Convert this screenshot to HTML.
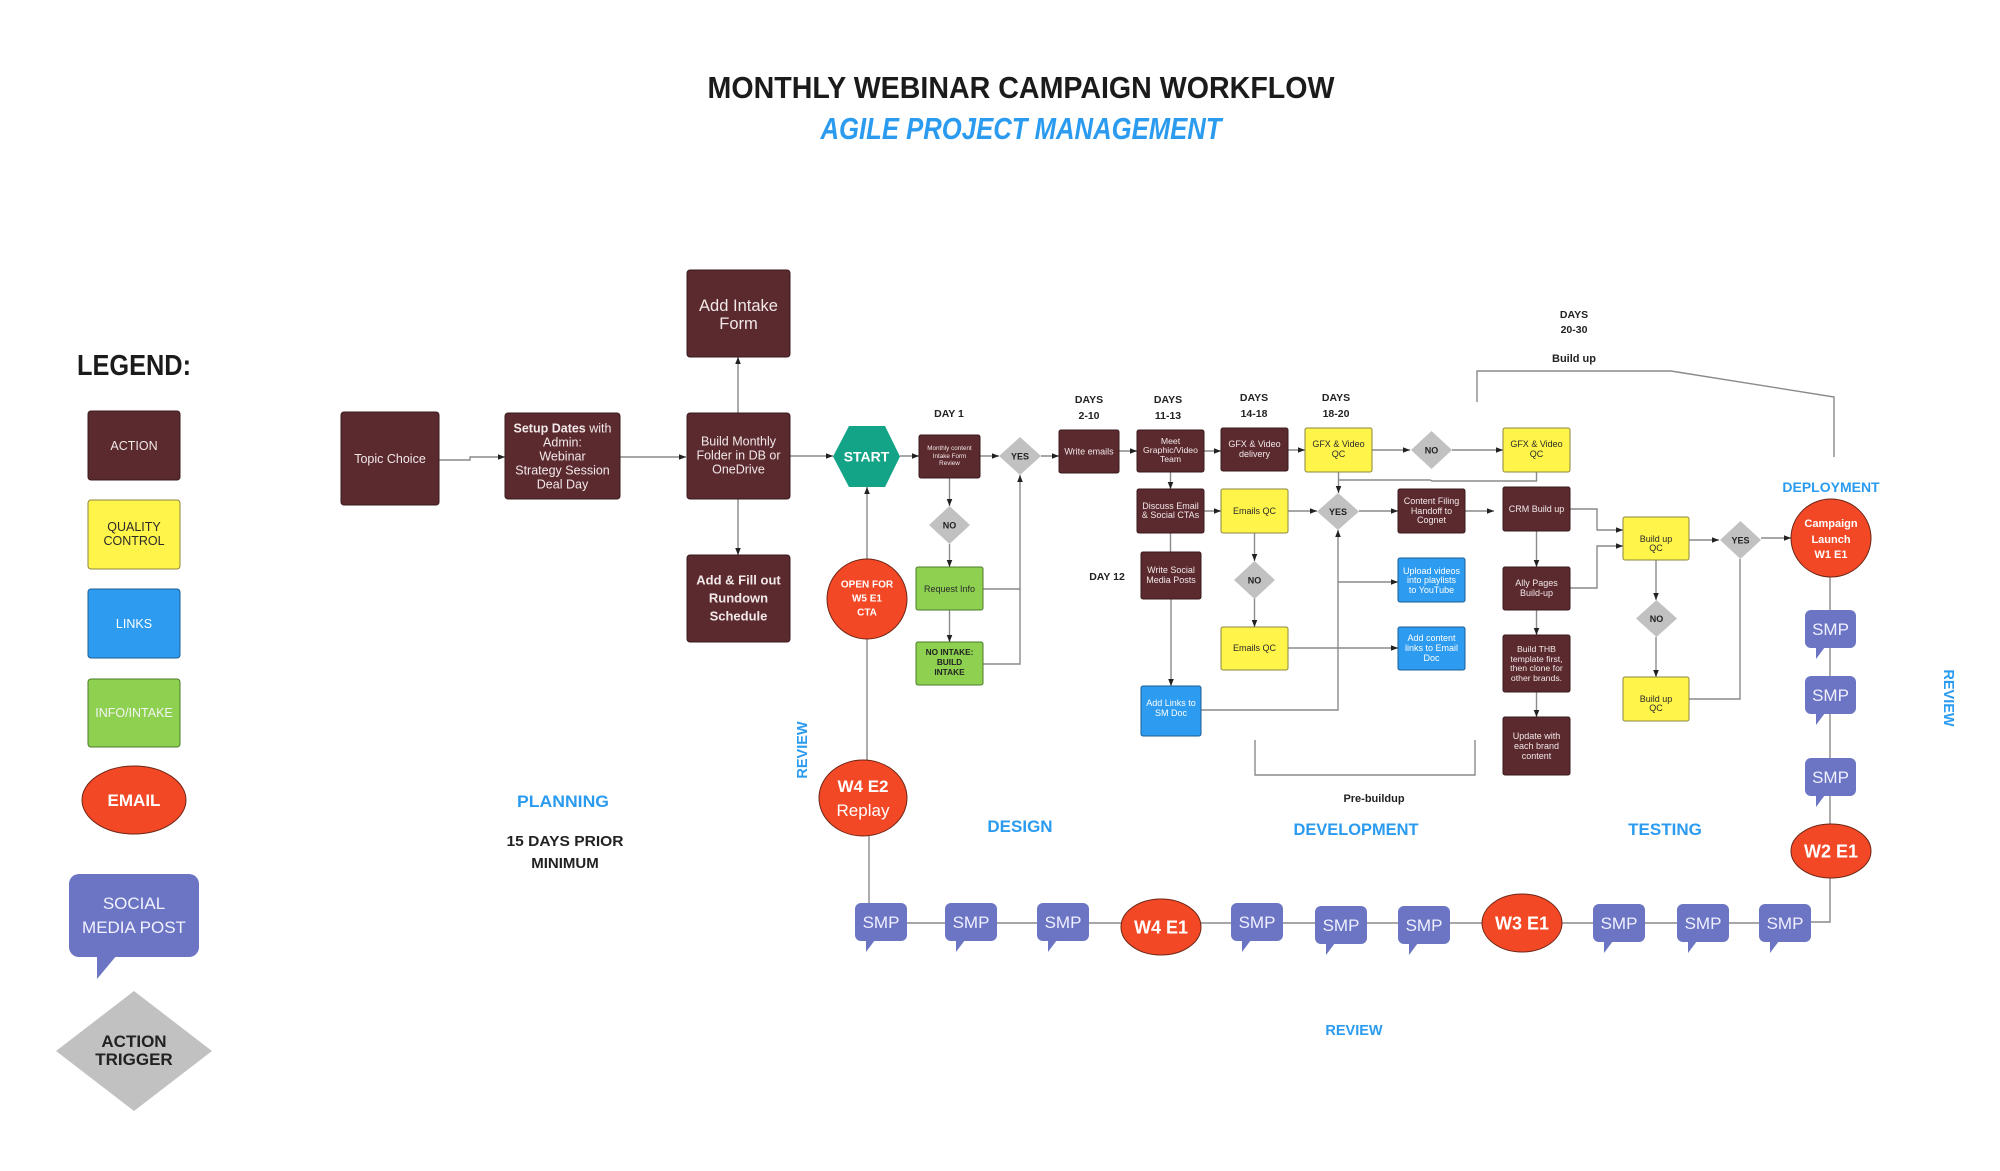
<!DOCTYPE html>
<html><head><meta charset="utf-8"><style>
html,body{margin:0;padding:0;background:#fff;}
svg{display:block;font-family:"Liberation Sans",Arial,sans-serif;}
.m{fill:#5B2A2F;stroke:#3a1b1e;stroke-width:1}
.y{fill:#FFF54A;stroke:#8a8640;stroke-width:1}
.b{fill:#2D9BF0;stroke:#1b5e93;stroke-width:1}
.g{fill:#8ED150;stroke:#4c7a2a;stroke-width:1}
.r{fill:#F24826;stroke:#6e2616;stroke-width:1}
.p{fill:#6B75C3}
.d{fill:#C1C1C1}
.tw{fill:#F1E8E8}
.tk{fill:#2a2a2a}
.tb{fill:#222}
.bl{fill:#2B9BF0;font-weight:bold}
.ln{stroke:#8a8a8a;stroke-width:1.4;fill:none}
.la{stroke:#8a8a8a;stroke-width:1.4;fill:none;marker-end:url(#a)}
</style></head><body>
<svg width="2000" height="1171" viewBox="0 0 2000 1171" xmlns="http://www.w3.org/2000/svg">
<defs>
<marker id="a" viewBox="0 0 10 10" refX="10" refY="5" markerWidth="7" markerHeight="7" markerUnits="userSpaceOnUse" orient="auto"><path d="M0,1 L10,5 L0,9 z" fill="#222"/></marker>
</defs>
<rect width="2000" height="1171" fill="#fff"/>

<!-- Title -->
<text x="1021" y="98" font-size="31" font-weight="bold" fill="#1b1b1b" text-anchor="middle" textLength="627" lengthAdjust="spacingAndGlyphs">MONTHLY WEBINAR CAMPAIGN WORKFLOW</text>
<text x="1021" y="139" font-size="31" font-weight="bold" font-style="italic" fill="#2B9BF0" text-anchor="middle" textLength="401" lengthAdjust="spacingAndGlyphs">AGILE PROJECT MANAGEMENT</text>

<!-- Legend -->
<text x="134" y="375" font-size="29" font-weight="bold" fill="#1b1b1b" text-anchor="middle" textLength="114" lengthAdjust="spacingAndGlyphs">LEGEND:</text>
<rect class="m" x="88" y="411" width="92" height="69" rx="3"/>
<text class="tw" x="134" y="450" font-size="12.5" text-anchor="middle">ACTION</text>
<rect class="y" x="88" y="500" width="92" height="69" rx="3"/>
<text class="tk" x="134" y="531" font-size="12.5" text-anchor="middle">QUALITY</text>
<text class="tk" x="134" y="545" font-size="12.5" text-anchor="middle">CONTROL</text>
<rect class="b" x="88" y="589" width="92" height="69" rx="3"/>
<text fill="#fff" x="134" y="628" font-size="12.5" text-anchor="middle">LINKS</text>
<rect class="g" x="88" y="679" width="92" height="68" rx="3"/>
<text fill="#f4f4f4" x="134" y="717" font-size="12.5" text-anchor="middle">INFO/INTAKE</text>
<ellipse class="r" cx="134" cy="800" rx="52" ry="34"/>
<text fill="#fff" x="134" y="806" font-size="17" font-weight="bold" text-anchor="middle">EMAIL</text>
<rect class="p" x="69" y="874" width="130" height="83" rx="10"/>
<polygon class="p" points="97,955 117,955 97,979"/>
<text fill="#f2f2ff" x="134" y="909" font-size="17" text-anchor="middle">SOCIAL</text>
<text fill="#f2f2ff" x="134" y="933" font-size="17" text-anchor="middle">MEDIA POST</text>
<polygon class="d" points="56,1051 134,991 212,1051 134,1111"/>
<text class="tb" x="134" y="1047" font-size="17" font-weight="bold" text-anchor="middle">ACTION</text>
<text class="tb" x="134" y="1065" font-size="17" font-weight="bold" text-anchor="middle">TRIGGER</text>

<!-- connectors -->
<path class="la" d="M439,460 H470 V457 H505"/>
<path class="la" d="M620,457 H686"/>
<path class="la" d="M738,413 V357"/>
<path class="la" d="M738,499 V555"/>
<path class="la" d="M790,456 H833"/>
<path class="la" d="M900,456 H919"/>
<path class="la" d="M867,559 V487"/>
<path class="ln" d="M867,639 V760"/>
<path class="ln" d="M869,836 V904"/>
<path class="la" d="M980,456 H999"/>
<path class="la" d="M949.5,478 V506"/>
<path class="la" d="M949.5,544 V567"/>
<path class="la" d="M949.5,610 V642"/>
<path class="la" d="M983,589 H1020 V475"/>
<path class="ln" d="M983,664 H1020 V589"/>
<path class="la" d="M1041,456 H1059"/>
<path class="la" d="M1119,451 H1137"/>
<path class="la" d="M1204,451 H1221"/>
<path class="la" d="M1288,450 H1305"/>
<path class="la" d="M1372,450 H1410"/>
<path class="la" d="M1452,450 H1503"/>
<path class="la" d="M1170.5,472 V489"/>
<path class="la" d="M1204,511 H1221"/>
<path class="ln" d="M1170.5,533 V552"/>
<path class="la" d="M1171,599 V686"/>
<path class="la" d="M1288,511 H1317"/>
<path class="la" d="M1254.5,533 V561"/>
<path class="la" d="M1254.5,598 V627"/>
<path class="la" d="M1288,648 H1398"/>
<path class="la" d="M1201,710 H1338 V530"/>
<path class="la" d="M1338,582 H1398"/>
<path class="la" d="M1359,511 H1398"/>
<path class="la" d="M1338.5,472 V493"/>
<path class="ln" d="M1536.5,472 V481 H1432 L1430,480 H1338.5"/>
<path class="la" d="M1465,511 H1494"/>
<path class="la" d="M1570,509 H1597 V530 H1623"/>
<path class="la" d="M1570,588 H1597 V546 H1623"/>
<path class="la" d="M1536.5,531 V567"/>
<path class="la" d="M1536.5,610 V635"/>
<path class="la" d="M1536.5,692 V717"/>
<path class="la" d="M1689,540 H1719"/>
<path class="la" d="M1656,560 V600"/>
<path class="la" d="M1656,637 V677"/>
<path class="ln" d="M1689,699 H1740 V559"/>
<path class="la" d="M1761,538 H1791"/>
<path class="ln" d="M1830,577 V922 H1811"/>
<path class="ln" d="M880,923 H1780"/>
<!-- brackets -->
<path class="ln" d="M1477,402 V371 H1671 L1834,397 V457"/>
<path class="ln" d="M1255,740 V775 H1475 V740"/>

<!-- Planning nodes -->
<rect class="m" x="341" y="412" width="98" height="93" rx="3"/>
<text class="tw" x="390" y="463" font-size="12.5" text-anchor="middle">Topic Choice</text>
<rect class="m" x="505" y="413" width="115" height="86" rx="3"/>
<text class="tw" x="562.5" y="432.5" font-size="12.5" text-anchor="middle"><tspan font-weight="bold">Setup Dates</tspan> with</text>
<text class="tw" x="562.5" y="446.5" font-size="12.5" text-anchor="middle">Admin:</text>
<text class="tw" x="562.5" y="460.5" font-size="12.5" text-anchor="middle">Webinar</text>
<text class="tw" x="562.5" y="474.5" font-size="12.5" text-anchor="middle">Strategy Session</text>
<text class="tw" x="562.5" y="488.5" font-size="12.5" text-anchor="middle">Deal Day</text>
<rect class="m" x="687" y="413" width="103" height="86" rx="3"/>
<text class="tw" x="738.5" y="445.5" font-size="12.5" text-anchor="middle">Build Monthly</text>
<text class="tw" x="738.5" y="459.5" font-size="12.5" text-anchor="middle">Folder in DB or</text>
<text class="tw" x="738.5" y="473.5" font-size="12.5" text-anchor="middle">OneDrive</text>
<rect class="m" x="687" y="270" width="103" height="87" rx="3"/>
<text class="tw" x="738.5" y="311" font-size="16.5" text-anchor="middle">Add Intake</text>
<text class="tw" x="738.5" y="329" font-size="16.5" text-anchor="middle">Form</text>
<rect class="m" x="687" y="555" width="103" height="87" rx="3"/>
<text class="tw" x="738.5" y="584.5" font-size="13" font-weight="bold" text-anchor="middle">Add &amp; Fill out</text>
<text class="tw" x="738.5" y="602.5" font-size="13" font-weight="bold" text-anchor="middle">Rundown</text>
<text class="tw" x="738.5" y="620.5" font-size="13" font-weight="bold" text-anchor="middle">Schedule</text>

<polygon points="849,426 885,426 900,456.5 885,487 849,487 833,456.5" fill="#13A386"/>
<text fill="#fff" x="866.5" y="461.5" font-size="14" font-weight="bold" text-anchor="middle">START</text>
<circle class="r" cx="867" cy="599" r="40"/>
<text fill="#fff" x="867" y="587.5" font-size="10" font-weight="bold" text-anchor="middle">OPEN FOR</text>
<text fill="#fff" x="867" y="601.5" font-size="10" font-weight="bold" text-anchor="middle">W5 E1</text>
<text fill="#fff" x="867" y="615.5" font-size="10" font-weight="bold" text-anchor="middle">CTA</text>
<ellipse class="r" cx="863" cy="798" rx="44" ry="38"/>
<text fill="#fff" x="863" y="792" font-size="17" font-weight="bold" text-anchor="middle">W4 E2</text>
<text fill="#fff" x="863" y="816" font-size="17" text-anchor="middle">Replay</text>
<text class="bl" x="0" y="0" font-size="14.5" text-anchor="middle" transform="translate(807,750) rotate(-90)">REVIEW</text>

<!-- Day 1 -->
<text class="tb" x="949" y="417" font-size="10.5" font-weight="bold" text-anchor="middle">DAY 1</text>
<rect class="m" x="919" y="435" width="61" height="43" rx="2"/>
<text class="tw" x="949.5" y="450" font-size="6.3" text-anchor="middle">Monthly content</text>
<text class="tw" x="949.5" y="458" font-size="6.3" text-anchor="middle">Intake Form</text>
<text class="tw" x="949.5" y="465" font-size="6.3" text-anchor="middle">Review</text>
<polygon class="d" points="999,456 1020,437 1041,456 1020,475"/>
<text class="tb" x="1020" y="459.5" font-size="9" font-weight="bold" text-anchor="middle">YES</text>
<polygon class="d" points="929,525 949.5,506 970,525 949.5,544"/>
<text class="tb" x="949.5" y="528.5" font-size="9" font-weight="bold" text-anchor="middle">NO</text>
<rect class="g" x="916" y="567" width="67" height="43" rx="2"/>
<text class="tk" x="949.5" y="592" font-size="9" text-anchor="middle">Request Info</text>
<rect class="g" x="916" y="642" width="67" height="43" rx="2"/>
<text class="tb" x="949.5" y="655" font-size="8.3" font-weight="bold" text-anchor="middle">NO INTAKE:</text>
<text class="tb" x="949.5" y="665" font-size="8.3" font-weight="bold" text-anchor="middle">BUILD</text>
<text class="tb" x="949.5" y="675" font-size="8.3" font-weight="bold" text-anchor="middle">INTAKE</text>

<!-- Days labels -->
<text class="tb" x="1089" y="403" font-size="10.5" font-weight="bold" text-anchor="middle">DAYS</text>
<text class="tb" x="1089" y="419" font-size="10.5" font-weight="bold" text-anchor="middle">2-10</text>
<text class="tb" x="1168" y="403" font-size="10.5" font-weight="bold" text-anchor="middle">DAYS</text>
<text class="tb" x="1168" y="419" font-size="10.5" font-weight="bold" text-anchor="middle">11-13</text>
<text class="tb" x="1254" y="401" font-size="10.5" font-weight="bold" text-anchor="middle">DAYS</text>
<text class="tb" x="1254" y="417" font-size="10.5" font-weight="bold" text-anchor="middle">14-18</text>
<text class="tb" x="1336" y="401" font-size="10.5" font-weight="bold" text-anchor="middle">DAYS</text>
<text class="tb" x="1336" y="417" font-size="10.5" font-weight="bold" text-anchor="middle">18-20</text>
<text class="tb" x="1574" y="318" font-size="10.5" font-weight="bold" text-anchor="middle">DAYS</text>
<text class="tb" x="1574" y="333" font-size="10.5" font-weight="bold" text-anchor="middle">20-30</text>
<text class="tb" x="1574" y="362" font-size="11" font-weight="bold" text-anchor="middle">Build up</text>
<text class="tb" x="1107" y="580" font-size="10.5" font-weight="bold" text-anchor="middle">DAY 12</text>
<text class="tb" x="1374" y="802" font-size="11" font-weight="bold" text-anchor="middle">Pre-buildup</text>

<!-- Design / Development nodes -->
<rect class="m" x="1059" y="430" width="60" height="43" rx="2"/>
<text class="tw" x="1089" y="454.5" font-size="9" text-anchor="middle">Write emails</text>
<rect class="m" x="1137" y="430" width="67" height="42" rx="2"/>
<text class="tw" x="1170.5" y="444" font-size="8.7" text-anchor="middle">Meet</text>
<text class="tw" x="1170.5" y="453" font-size="8.7" text-anchor="middle">Graphic/Video</text>
<text class="tw" x="1170.5" y="462" font-size="8.7" text-anchor="middle">Team</text>
<rect class="m" x="1221" y="428" width="67" height="43" rx="2"/>
<text class="tw" x="1254.5" y="447" font-size="9" text-anchor="middle">GFX &amp; Video</text>
<text class="tw" x="1254.5" y="457" font-size="9" text-anchor="middle">delivery</text>
<rect class="y" x="1305" y="428" width="67" height="44" rx="2"/>
<text class="tk" x="1338.5" y="447" font-size="9" text-anchor="middle">GFX &amp; Video</text>
<text class="tk" x="1338.5" y="457" font-size="9" text-anchor="middle">QC</text>
<polygon class="d" points="1411,450 1431.5,431 1452,450 1431.5,469"/>
<text class="tb" x="1431.5" y="453.5" font-size="9" font-weight="bold" text-anchor="middle">NO</text>
<rect class="y" x="1503" y="428" width="67" height="44" rx="2"/>
<text class="tk" x="1536.5" y="447" font-size="9" text-anchor="middle">GFX &amp; Video</text>
<text class="tk" x="1536.5" y="457" font-size="9" text-anchor="middle">QC</text>

<rect class="m" x="1137" y="489" width="67" height="44" rx="2"/>
<text class="tw" x="1170.5" y="509" font-size="9" text-anchor="middle">Discuss Email</text>
<text class="tw" x="1170.5" y="518" font-size="9" text-anchor="middle">&amp; Social CTAs</text>
<rect class="y" x="1221" y="489" width="67" height="44" rx="2"/>
<text class="tk" x="1254.5" y="514" font-size="9" text-anchor="middle">Emails QC</text>
<polygon class="d" points="1317,511.5 1338,493 1359,511.5 1338,530"/>
<text class="tb" x="1338" y="515" font-size="9" font-weight="bold" text-anchor="middle">YES</text>
<rect class="m" x="1398" y="489" width="67" height="44" rx="2"/>
<text class="tw" x="1431.5" y="504" font-size="9" text-anchor="middle">Content Filing</text>
<text class="tw" x="1431.5" y="514" font-size="9" text-anchor="middle">Handoff to</text>
<text class="tw" x="1431.5" y="523" font-size="9" text-anchor="middle">Cognet</text>

<rect class="m" x="1141" y="552" width="60" height="47" rx="2"/>
<text class="tw" x="1171" y="573" font-size="9" text-anchor="middle">Write Social</text>
<text class="tw" x="1171" y="583" font-size="9" text-anchor="middle">Media Posts</text>
<polygon class="d" points="1234,580 1254.5,561 1275,580 1254.5,599"/>
<text class="tb" x="1254.5" y="583.5" font-size="9" font-weight="bold" text-anchor="middle">NO</text>
<rect class="b" x="1398" y="558" width="67" height="44" rx="2"/>
<text fill="#fff" x="1431.5" y="574" font-size="9" text-anchor="middle">Upload videos</text>
<text fill="#fff" x="1431.5" y="583" font-size="9" text-anchor="middle">into playlists</text>
<text fill="#fff" x="1431.5" y="593" font-size="9" text-anchor="middle">to YouTube</text>
<rect class="y" x="1221" y="627" width="67" height="43" rx="2"/>
<text class="tk" x="1254.5" y="651" font-size="9" text-anchor="middle">Emails QC</text>
<rect class="b" x="1398" y="627" width="67" height="43" rx="2"/>
<text fill="#fff" x="1431.5" y="641" font-size="9" text-anchor="middle">Add content</text>
<text fill="#fff" x="1431.5" y="651" font-size="9" text-anchor="middle">links to Email</text>
<text fill="#fff" x="1431.5" y="661" font-size="9" text-anchor="middle">Doc</text>
<rect class="b" x="1141" y="686" width="60" height="50" rx="2"/>
<text fill="#fff" x="1171" y="706" font-size="9" text-anchor="middle">Add Links to</text>
<text fill="#fff" x="1171" y="716" font-size="9" text-anchor="middle">SM Doc</text>

<!-- Build-up / testing -->
<rect class="m" x="1503" y="487" width="67" height="44" rx="2"/>
<text class="tw" x="1536.5" y="512" font-size="9" text-anchor="middle">CRM Build up</text>
<rect class="m" x="1503" y="567" width="67" height="43" rx="2"/>
<text class="tw" x="1536.5" y="586" font-size="9" text-anchor="middle">Ally Pages</text>
<text class="tw" x="1536.5" y="596" font-size="9" text-anchor="middle">Build-up</text>
<rect class="m" x="1503" y="635" width="67" height="57" rx="2"/>
<text class="tw" x="1536.5" y="652" font-size="8.7" text-anchor="middle">Build THB</text>
<text class="tw" x="1536.5" y="662" font-size="8.7" text-anchor="middle">template first,</text>
<text class="tw" x="1536.5" y="671" font-size="8.7" text-anchor="middle">then clone for</text>
<text class="tw" x="1536.5" y="681" font-size="8.7" text-anchor="middle">other brands.</text>
<rect class="m" x="1503" y="717" width="67" height="58" rx="2"/>
<text class="tw" x="1536.5" y="739" font-size="9" text-anchor="middle">Update with</text>
<text class="tw" x="1536.5" y="749" font-size="9" text-anchor="middle">each brand</text>
<text class="tw" x="1536.5" y="759" font-size="9" text-anchor="middle">content</text>
<rect class="y" x="1623" y="517" width="66" height="43" rx="2"/>
<text class="tk" x="1656" y="542" font-size="9" text-anchor="middle">Build up</text>
<text class="tk" x="1656" y="551" font-size="9" text-anchor="middle">QC</text>
<polygon class="d" points="1720,540 1740.5,521 1761,540 1740.5,559"/>
<text class="tb" x="1740.5" y="543.5" font-size="9" font-weight="bold" text-anchor="middle">YES</text>
<polygon class="d" points="1636,618.5 1656.5,600 1677,618.5 1656.5,637"/>
<text class="tb" x="1656.5" y="622" font-size="9" font-weight="bold" text-anchor="middle">NO</text>
<rect class="y" x="1623" y="677" width="66" height="44" rx="2"/>
<text class="tk" x="1656" y="702" font-size="9" text-anchor="middle">Build up</text>
<text class="tk" x="1656" y="711" font-size="9" text-anchor="middle">QC</text>

<!-- Deployment column -->
<text class="bl" x="1831" y="492" font-size="14" text-anchor="middle">DEPLOYMENT</text>
<ellipse class="r" cx="1831" cy="538" rx="40" ry="39"/>
<text fill="#fff" x="1831" y="527" font-size="11" font-weight="bold" text-anchor="middle">Campaign</text>
<text fill="#fff" x="1831" y="543" font-size="11" font-weight="bold" text-anchor="middle">Launch</text>
<text fill="#fff" x="1831" y="558" font-size="11" font-weight="bold" text-anchor="middle">W1 E1</text>

<g fill="#6B75C3">
<rect x="1805" y="610" width="51" height="38" rx="6"/><polygon points="1816,647 1825,647 1816,659"/>
<rect x="1805" y="676" width="51" height="38" rx="6"/><polygon points="1816,713 1825,713 1816,725"/>
<rect x="1805" y="758" width="51" height="38" rx="6"/><polygon points="1816,795 1825,795 1816,807"/>
</g>
<g fill="#f0f0ff" font-size="17" text-anchor="middle">
<text x="1830.5" y="635">SMP</text>
<text x="1830.5" y="701">SMP</text>
<text x="1830.5" y="783">SMP</text>
</g>
<ellipse class="r" cx="1831" cy="851" rx="40" ry="27"/>
<text fill="#fff" x="1831" y="857.5" font-size="18" font-weight="bold" text-anchor="middle">W2 E1</text>
<text class="bl" x="0" y="0" font-size="14.5" text-anchor="middle" transform="translate(1944,698) rotate(90)">REVIEW</text>

<!-- Bottom row -->
<g fill="#6B75C3">
<rect x="855" y="903" width="52" height="38" rx="6"/><polygon points="866,940 875,940 866,952"/>
<rect x="945" y="903" width="52" height="38" rx="6"/><polygon points="956,940 965,940 956,952"/>
<rect x="1037" y="903" width="52" height="38" rx="6"/><polygon points="1048,940 1057,940 1048,952"/>
<rect x="1231" y="903" width="52" height="38" rx="6"/><polygon points="1242,940 1251,940 1242,952"/>
<rect x="1315" y="906" width="52" height="38" rx="6"/><polygon points="1326,943 1335,943 1326,955"/>
<rect x="1398" y="906" width="52" height="38" rx="6"/><polygon points="1409,943 1418,943 1409,955"/>
<rect x="1593" y="904" width="52" height="38" rx="6"/><polygon points="1604,941 1613,941 1604,953"/>
<rect x="1677" y="904" width="52" height="38" rx="6"/><polygon points="1688,941 1697,941 1688,953"/>
<rect x="1759" y="904" width="52" height="38" rx="6"/><polygon points="1770,941 1779,941 1770,953"/>
</g>
<g fill="#f0f0ff" font-size="17" text-anchor="middle">
<text x="881" y="928">SMP</text>
<text x="971" y="928">SMP</text>
<text x="1063" y="928">SMP</text>
<text x="1257" y="928">SMP</text>
<text x="1341" y="931">SMP</text>
<text x="1424" y="931">SMP</text>
<text x="1619" y="929">SMP</text>
<text x="1703" y="929">SMP</text>
<text x="1785" y="929">SMP</text>
</g>
<ellipse class="r" cx="1161" cy="927" rx="40" ry="28"/>
<text fill="#fff" x="1161" y="933.5" font-size="18" font-weight="bold" text-anchor="middle">W4 E1</text>
<ellipse class="r" cx="1522" cy="923" rx="40" ry="29"/>
<text fill="#fff" x="1522" y="929.5" font-size="18" font-weight="bold" text-anchor="middle">W3 E1</text>

<!-- Phase labels -->
<text class="bl" x="563" y="807" font-size="17" text-anchor="middle" textLength="92" lengthAdjust="spacingAndGlyphs">PLANNING</text>
<text class="tb" x="565" y="846" font-size="15" font-weight="bold" text-anchor="middle" textLength="117" lengthAdjust="spacingAndGlyphs">15 DAYS PRIOR</text>
<text class="tb" x="565" y="868" font-size="15" font-weight="bold" text-anchor="middle">MINIMUM</text>
<text class="bl" x="1020" y="832" font-size="17" text-anchor="middle">DESIGN</text>
<text class="bl" x="1356" y="835" font-size="17" text-anchor="middle" textLength="125" lengthAdjust="spacingAndGlyphs">DEVELOPMENT</text>
<text class="bl" x="1665" y="835" font-size="17" text-anchor="middle">TESTING</text>
<text class="bl" x="1354" y="1035" font-size="14.5" text-anchor="middle">REVIEW</text>
</svg>
</body></html>
